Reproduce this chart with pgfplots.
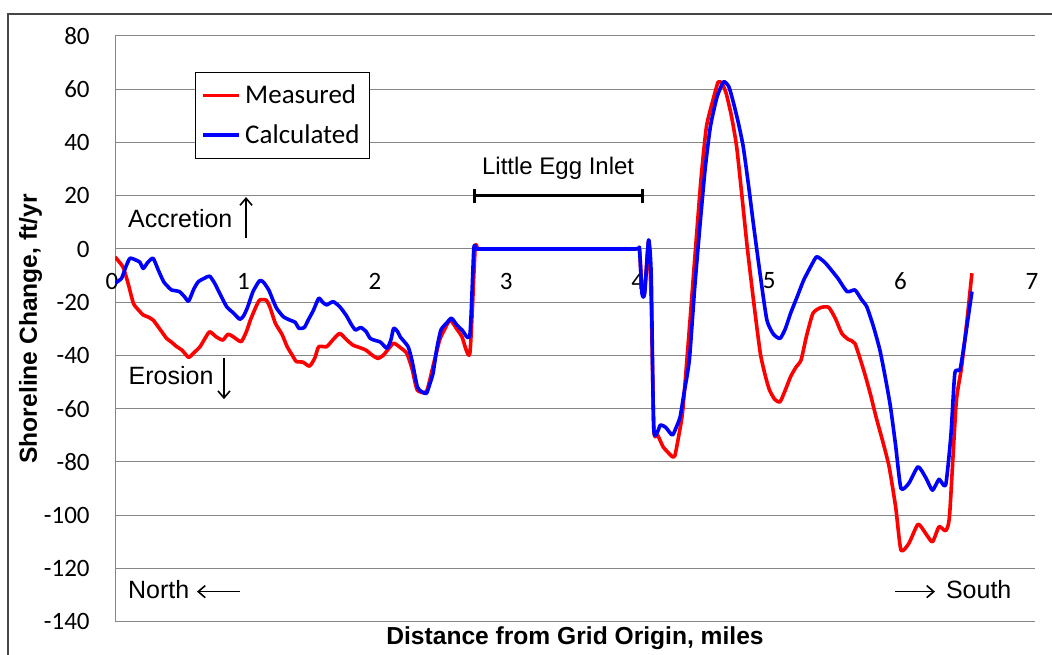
\documentclass[border=0pt]{standalone}
\usepackage{fontspec}
\setmainfont{Liberation Sans}
\newfontfamily\calibri{Carlito}
\usepackage{pgfplots}
\pgfplotsset{compat=1.18}
\usetikzlibrary{arrows.meta}
\definecolor{gridgray}{RGB}{134,134,134}
\definecolor{framegray}{RGB}{70,70,70}

\begin{document}
\begin{tikzpicture}
\useasboundingbox (-57.5pt,-16.15pt) rectangle (468.5pt,310.85pt);
\draw[framegray, line width=0.9pt] (-53.5pt,-30pt) -- (-53.5pt,303.85pt) -- (480pt,303.85pt);
\begin{axis}[
  scale only axis,
  width=460pt, height=292.85pt,
  xmin=0, xmax=7, ymin=-140, ymax=80,
  axis x line*=middle, axis y line*=left,
  axis line style={gridgray, line width=0.5pt},
  hide obscured x ticks=false, hide obscured y ticks=false,
  xtick={0,1,2,3,4,5,6,7},
  xticklabels={0,1,2,3,4,5,6,7},
  ytick={-140,-120,-100,-80,-60,-40,-20,0,20,40,60,80},
  yticklabels={-140,-120,-100,-80,-60,-40,-20,0,20,40,60,80},
  major tick length=0pt,
  ymajorgrids, grid style={gridgray, line width=0.5pt},
  tick label style={font=\calibri\fontsize{12.5}{14}\selectfont},
  xticklabel style={anchor=center, yshift=-16pt, xshift=-1.5pt},
  yticklabel style={anchor=east, inner sep=0pt, xshift=-12.5pt},
  xlabel={Distance from Grid Origin, miles},
  ylabel={Shoreline Change, ft/yr},
  label style={font=\bfseries\fontsize{12.3}{14}\selectfont},
  xlabel style={at={(axis description cs:0.5,-0.0381)}, anchor=base},
  ylabel style={at={(axis description cs:-0.0848,0.5)}, anchor=base},
  legend style={at={(axis description cs:0.087,0.9385)}, anchor=north west,
    draw=black, line width=0.6pt, font=\calibri\fontsize{13.5}{16}\selectfont,
    row sep=5pt, inner xsep=3pt, inner ysep=4pt},
  legend cell align=left,
  legend image code/.code={\draw[#1, line width=1.8pt] (0pt,0pt) -- (18pt,0pt);},
  every axis plot/.append style={line width=1.8pt, line join=round, smooth, tension=0.35},
]
\addplot[red] coordinates {
(0,-3)(0.06,-6.7)(0.10,-13)(0.14,-20.4)(0.18,-23)(0.215,-24.8)(0.25,-25.5)(0.29,-26.7)
(0.34,-30)(0.393,-33.6)(0.43,-35)(0.47,-36.7)(0.51,-38)(0.56,-40.7)(0.60,-39)(0.647,-36.7)
(0.68,-34)(0.72,-31.1)(0.77,-33)(0.82,-34.2)(0.86,-32)(0.90,-33)(0.96,-34.8)(1.00,-31)
(1.03,-26.7)(1.07,-22)(1.10,-19.2)(1.15,-19.2)(1.18,-22)(1.22,-27.9)(1.27,-32)(1.31,-36.7)
(1.35,-40)(1.38,-42.3)(1.43,-42.5)(1.48,-44)(1.52,-41)(1.55,-36.7)(1.61,-36.7)(1.66,-34)
(1.71,-31.7)(1.76,-34)(1.81,-36.1)(1.86,-37)(1.91,-38)(1.96,-40)(2.00,-41.1)(2.04,-40)
(2.07,-38.2)(2.12,-35.4)(2.17,-37)(2.22,-39.2)(2.26,-45)(2.30,-53)(2.37,-53.5)(2.42,-44)
(2.47,-34.2)(2.51,-30)(2.55,-26.7)(2.60,-30)(2.64,-33)(2.70,-39.2)(2.74,0)(2.76,0)
(2.80,0)(3.00,0)(3.50,0)(3.96,0)(3.99,0)
(4.01,-16)(4.03,-16)(4.06,3)(4.08,-20)(4.10,-68)(4.13,-70)(4.17,-74.3)(4.20,-76)
(4.24,-78)(4.26,-77.6)(4.29,-70)(4.32,-60.5)(4.37,-30)(4.42,2.1)(4.46,27)(4.50,45.9)
(4.55,56)(4.59,62.8)(4.62,62)(4.65,58.5)(4.69,50)(4.73,38.4)(4.77,20)(4.81,0.9)
(4.86,-20)(4.91,-39.2)(4.95,-48)(4.98,-53)(5.02,-56.5)(5.06,-57.4)(5.10,-53)(5.14,-48)
(5.18,-44.5)(5.22,-41.7)(5.26,-33)(5.31,-24.2)(5.37,-22)(5.43,-21.9)(5.48,-26)(5.53,-31.7)
(5.58,-34)(5.63,-35.5)(5.70,-46.1)(5.75,-55)(5.79,-63)(5.84,-72)(5.89,-81.8)(5.94,-97)
(5.98,-113.1)(6.04,-110.6)(6.11,-103.4)(6.17,-107)(6.22,-110)(6.27,-104.3)(6.32,-105.8)(6.35,-100)
(6.40,-58)(6.44,-44.8)(6.48,-28)(6.52,-9.1)
};
\addlegendentry{Measured}
\addplot[blue] coordinates {
(0,-12.9)(0.05,-11)(0.08,-7)(0.114,-3.5)(0.165,-4.3)(0.19,-5)(0.215,-7.3)(0.25,-5)
(0.29,-3.5)(0.33,-8)(0.37,-12.3)(0.40,-14)(0.43,-15.4)(0.49,-16)(0.53,-18)(0.56,-19.6)
(0.60,-15)(0.634,-12.3)(0.68,-11)(0.72,-10.2)(0.76,-13)(0.80,-17)(0.85,-21.7)(0.90,-24)
(0.95,-26.4)(0.98,-25)(1.01,-21.7)(1.05,-16)(1.10,-11.9)(1.13,-12.5)(1.17,-15.4)(1.20,-19)
(1.23,-22.3)(1.28,-25.4)(1.33,-26.7)(1.37,-27.5)(1.40,-29.8)(1.44,-29.5)(1.47,-26.7)(1.51,-23)
(1.55,-18.5)(1.58,-20)(1.61,-21)(1.66,-19.8)(1.71,-21.7)(1.76,-25)(1.80,-28.5)(1.83,-30.4)
(1.87,-29.5)(1.91,-31)(1.94,-33.5)(1.97,-34.2)(2.02,-35)(2.07,-37.3)(2.10,-34)(2.12,-29.8)
(2.15,-31)(2.17,-33)(2.23,-36.7)(2.26,-42)(2.30,-51.7)(2.33,-53.5)(2.37,-54.2)(2.40,-50)
(2.42,-46.7)(2.45,-37)(2.48,-30.4)(2.52,-28)(2.56,-26)(2.60,-28.5)(2.64,-30.4)(2.70,-32.3)
(2.73,0)(2.75,0)(2.80,0)(3.00,0)(3.50,0)(3.96,0)(3.99,0)
(4.01,-16.7)(4.03,-16.7)(4.06,3.4)(4.08,-10)(4.10,-68)(4.15,-66.1)
(4.19,-67)(4.24,-69.9)(4.27,-67)(4.30,-63)(4.33,-54)(4.37,-41.7)(4.41,-15)(4.45,8.4)
(4.49,30)(4.53,45.9)(4.58,57)(4.63,62.8)(4.67,61)(4.70,56)(4.74,48)(4.78,38.4)
(4.82,24)(4.86,8.4)(4.91,-10)(4.96,-26.7)(5.01,-32)(5.06,-33.6)(5.10,-30)(5.14,-24.2)
(5.19,-18)(5.24,-11.7)(5.30,-6)(5.34,-2.9)(5.40,-5)(5.44,-7.3)(5.50,-11)(5.57,-16)
(5.63,-15.4)(5.68,-19)(5.72,-21.7)(5.77,-29)(5.82,-38)(5.86,-48)(5.90,-59.2)(5.94,-74)
(5.98,-89.9)(6.04,-88)(6.11,-81.8)(6.17,-86)(6.22,-90.6)(6.27,-86.5)(6.32,-88.7)(6.36,-70)
(6.39,-46.7)(6.43,-45.2)(6.47,-33)(6.52,-16)
};
\addlegendentry{Calculated}
% annotations
\node[anchor=base west, inner sep=0pt, font=\fontsize{12.5}{14}\selectfont] at (axis cs:0.097,8) {Accretion};
\draw[line width=0.8pt, -{Straight Barb[length=3.5pt,width=6pt]}] (axis cs:0.997,4.1) -- (axis cs:0.997,19.5);
\node[anchor=base west, inner sep=0pt, font=\fontsize{12.5}{14}\selectfont] at (axis cs:0.101,-50.8) {Erosion};
\draw[line width=0.8pt, -{Straight Barb[length=3.5pt,width=6pt]}] (axis cs:0.829,-41) -- (axis cs:0.829,-56.4);
\node[anchor=base west, inner sep=0pt, font=\fontsize{12.5}{14}\selectfont] at (axis cs:0.097,-131.2) {North};
\draw[line width=0.8pt, -{Straight Barb[length=3.5pt,width=6pt]}] (axis cs:0.951,-128.7) -- (axis cs:0.624,-128.7);
\node[anchor=base west, inner sep=0pt, font=\fontsize{12.5}{14}\selectfont] at (axis cs:6.32,-131.2) {South};
\draw[line width=0.8pt, -{Straight Barb[length=3.5pt,width=6pt]}] (axis cs:5.935,-128.7) -- (axis cs:6.239,-128.7);
\node[anchor=base west, inner sep=0pt, font=\fontsize{12}{14}\selectfont] at (axis cs:2.79,27.8) {Little Egg Inlet};
\draw[line width=1.5pt] (axis cs:2.739,20) -- (axis cs:4.012,20);
\draw[line width=1.5pt] (axis cs:2.739,17.3) -- (axis cs:2.739,22.7);
\draw[line width=1.5pt] (axis cs:4.012,17.3) -- (axis cs:4.012,22.7);
\end{axis}
\end{tikzpicture}
\end{document}
